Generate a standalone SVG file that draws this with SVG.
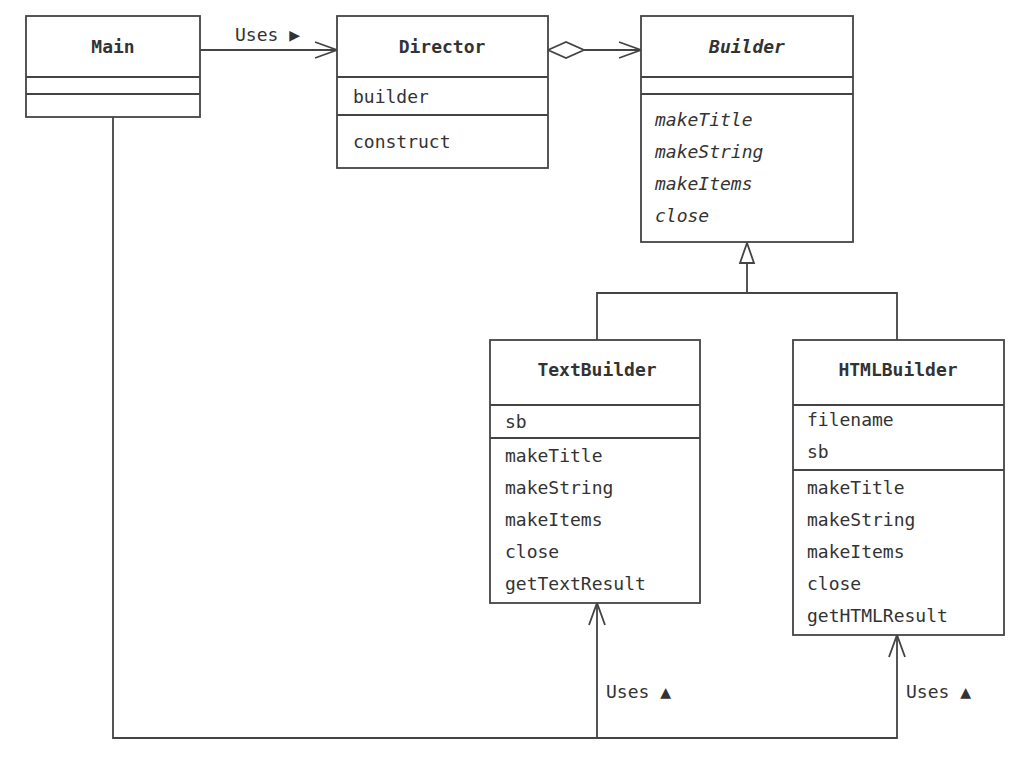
<svg xmlns="http://www.w3.org/2000/svg" width="1028" height="764" viewBox="0 0 1028 764">
<style>
.box{fill:#fff;stroke:#444;stroke-width:1.8}
.ln{fill:none;stroke:#444;stroke-width:1.8}
text{font-family:"DejaVu Sans Mono","Liberation Mono",monospace;font-size:18px;fill:#333}
.t{font-weight:bold;text-anchor:middle}
.i{font-style:italic}
</style>
<rect width="1028" height="764" fill="#fff"/>
<g id="connectors">
<path class="ln" d="M200 50H337"/>
<path class="ln" d="M315 42L337 50L315 58"/>
<text x="235" y="41">Uses ▶</text>
<path class="ln" d="M584 50H641"/>
<path class="box" d="M548 50L566 42L584 50L566 58Z"/>
<path class="ln" d="M619 42L641 50L619 58"/>
<path class="ln" d="M747 263V293M597 340V293H897V340"/>
<path class="box" d="M747 243L740 263H754Z"/>
<path class="ln" d="M113 117V738H897V635M597 738V603"/>
<path class="ln" d="M589 625L597 603L605 625M889 657L897 635L905 657"/>
<text x="606" y="698">Uses ▲</text>
<text x="906" y="698">Uses ▲</text>
</g>
<g id="Main">
<rect class="box" x="26" y="16" width="174" height="101"/>
<path class="ln" d="M26 77H200M26 94H200"/>
<text class="t" x="113" y="53">Main</text>
</g>
<g id="Director">
<rect class="box" x="337" y="16" width="211" height="152"/>
<path class="ln" d="M337 77H548M337 115H548"/>
<text class="t" x="442" y="53">Director</text>
<text x="353" y="103">builder</text>
<text x="353" y="148">construct</text>
</g>
<g id="Builder">
<rect class="box" x="641" y="16" width="212" height="226"/>
<path class="ln" d="M641 77H853M641 94H853"/>
<text class="t i" x="747" y="53">Builder</text>
<text class="i" x="655" y="126">makeTitle</text>
<text class="i" x="655" y="158">makeString</text>
<text class="i" x="655" y="190">makeItems</text>
<text class="i" x="655" y="222">close</text>
</g>
<g id="TextBuilder">
<rect class="box" x="490" y="340" width="210" height="263"/>
<path class="ln" d="M490 405H700M490 438H700"/>
<text class="t" x="597" y="376">TextBuilder</text>
<text x="505" y="428">sb</text>
<text x="505" y="462">makeTitle</text>
<text x="505" y="494">makeString</text>
<text x="505" y="526">makeItems</text>
<text x="505" y="558">close</text>
<text x="505" y="590">getTextResult</text>
</g>
<g id="HTMLBuilder">
<rect class="box" x="793" y="340" width="211" height="295"/>
<path class="ln" d="M793 405H1004M793 470H1004"/>
<text class="t" x="898" y="376">HTMLBuilder</text>
<text x="807" y="426">filename</text>
<text x="807" y="458">sb</text>
<text x="807" y="494">makeTitle</text>
<text x="807" y="526">makeString</text>
<text x="807" y="558">makeItems</text>
<text x="807" y="590">close</text>
<text x="807" y="622">getHTMLResult</text>
</g>
</svg>
